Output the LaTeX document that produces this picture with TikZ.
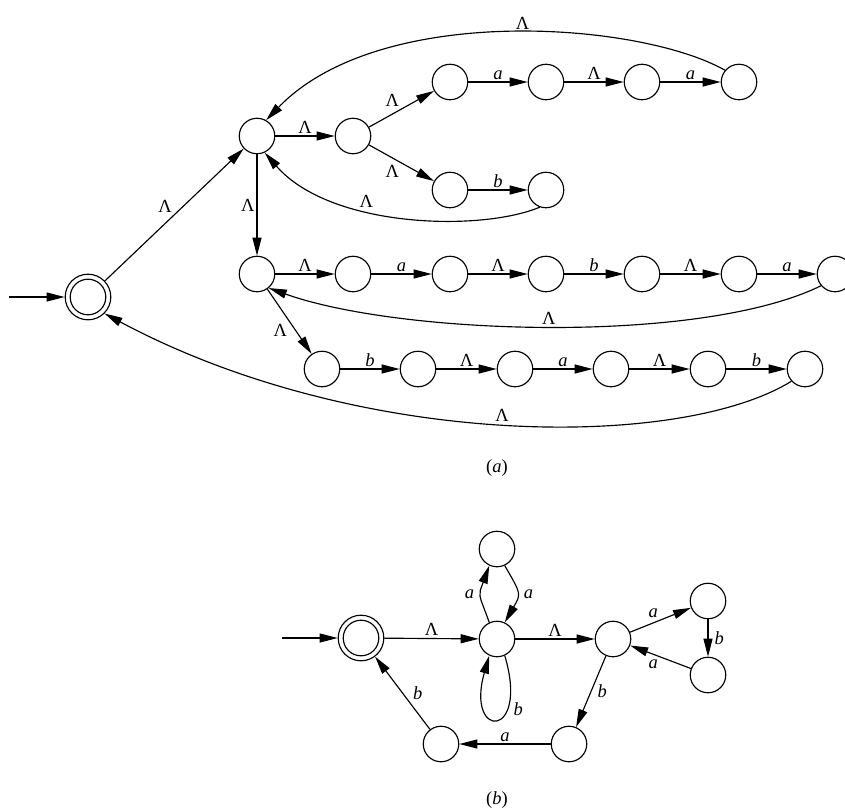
\documentclass[tikz,border=0pt]{standalone}
\usepackage{fontspec}
\setmainfont{Liberation Serif}
\usetikzlibrary{arrows.meta}
\begin{document}
\begin{tikzpicture}[x=1pt,y=-1pt,
  every node/.style={font=\fontsize{18.5}{21}\selectfont},
  st/.style={circle,draw,line width=1.15pt,minimum size=35.5pt,inner sep=0pt},
  acc/.style={circle,draw,line width=1.15pt,minimum size=45.6pt,inner sep=0pt},
  tr/.style={-{Triangle[length=18pt,width=9pt]},line width=1.15pt},
  lb/.style={inner sep=2pt}]
\useasboundingbox (0,0) rectangle (845,809);
% ---------- part (a) ----------
\node[acc] (S0) at (88,297) {};
\draw[line width=1.15pt] (S0.center) circle[radius=17.8pt];
\coordinate (S0in) at (9,297);
\node[st] (A) at (257,136) {};
\node[st] (B) at (353,136) {};
\node[st] (C1) at (450,82) {};
\node[st] (C2) at (546,82) {};
\node[st] (C3) at (642,82) {};
\node[st] (C4) at (739,82) {};
\node[st] (D1) at (450,190) {};
\node[st] (D2) at (546,190) {};
\node[st] (A2) at (257,274) {};
\node[st] (E1) at (353,274) {};
\node[st] (E2) at (450,274) {};
\node[st] (E3) at (546,274) {};
\node[st] (E4) at (642,274) {};
\node[st] (E5) at (739,274) {};
\node[st] (E6) at (835,274) {};
\node[st] (F1) at (322,369) {};
\node[st] (F2) at (418,369) {};
\node[st] (F3) at (515,369) {};
\node[st] (F4) at (611,369) {};
\node[st] (F5) at (708,369) {};
\node[st] (F6) at (805,369) {};

\draw[tr] (S0in) -- (S0);
\draw[tr] (S0) -- node[lb,above left] {Λ} (A);
\draw[tr] (A) -- node[lb,above] {Λ} (B);
\draw[tr] (B) -- node[lb,above left] {Λ} (C1);
\draw[tr] (B) -- node[lb,below left] {Λ} (D1);
\draw[tr] (C1) -- node[lb,above] {\textit{a}} (C2);
\draw[tr] (C2) -- node[lb,above] {Λ} (C3);
\draw[tr] (C3) -- node[lb,above] {\textit{a}} (C4);
\draw[tr] (D1) -- node[lb,above] {\textit{b}} (D2);
\draw[tr] (C4.140) .. controls (640,22) and (380,2) .. node[pos=0.47,lb,above] {Λ} (A.60);
\draw[tr] (D2.250) .. controls (480,232) and (330,228) .. node[pos=0.62,lb,above] {Λ} (A.295);
\draw[tr] (A) -- node[lb,left] {Λ} (A2);
\draw[tr] (A2) -- node[lb,above] {Λ} (E1);
\draw[tr] (E1) -- node[lb,above] {\textit{a}} (E2);
\draw[tr] (E2) -- node[lb,above] {Λ} (E3);
\draw[tr] (E3) -- node[lb,above] {\textit{b}} (E4);
\draw[tr] (E4) -- node[lb,above] {Λ} (E5);
\draw[tr] (E5) -- node[lb,above] {\textit{a}} (E6);
\draw[tr] (E6.220) .. controls (700,345) and (400,335) .. node[pos=0.5,lb,above] {Λ} (A2.310);
\draw[tr] (A2) -- node[lb,below left] {Λ} (F1);
\draw[tr] (F1) -- node[lb,above] {\textit{b}} (F2);
\draw[tr] (F2) -- node[lb,above] {Λ} (F3);
\draw[tr] (F3) -- node[lb,above] {\textit{a}} (F4);
\draw[tr] (F4) -- node[lb,above] {Λ} (F5);
\draw[tr] (F5) -- node[lb,above] {\textit{b}} (F6);
\draw[tr] (F6.222) .. controls (680,450) and (360,450) .. node[pos=0.5,lb,above] {Λ} (S0.315);
\node (capa) at (497,468) {(\textit{a})};
% ---------- part (b) ----------
\node[acc] (S) at (361,638) {};
\draw[line width=1.15pt] (S.center) circle[radius=17.8pt];
\coordinate (Sin) at (282,638);
\node[st] (M) at (497,639) {};
\node[st] (T) at (497,549) {};
\node[st] (R) at (613,639) {};
\node[st] (RT) at (708,601) {};
\node[st] (RB) at (708,675) {};
\node[st] (BR) at (569,744) {};
\node[st] (BL) at (441,744) {};

\draw[tr] (Sin) -- (S);
\draw[tr] (S) -- node[lb,above] {Λ} (M);
\draw[tr] (M) -- node[lb,above] {Λ} (R);
\draw[tr] (R) -- node[lb,above left] {\textit{a}} (RT);
\draw[tr] (RT) -- node[lb,right=4pt] {\textit{b}} (RB);
\draw[tr] (RB) -- node[lb,below left] {\textit{a}} (R);
\draw[tr] (R) -- node[lb,right=4pt] {\textit{b}} (BR);
\draw[tr] (BR) -- node[lb,above] {\textit{a}} (BL);
\draw[tr] (BL) -- node[lb,right=8pt] {\textit{b}} (S);
\draw[tr] (M.115) to[out=110,in=-110,looseness=1.5] node[lb,left=4pt] {\textit{a}} (T.245);
\draw[tr] (T.-65) to[out=-60,in=60,looseness=1.5] node[lb,right=4pt] {\textit{a}} (M.65);
\draw[tr] (M.-65) .. controls (530,740) and (465,740) .. node[pos=0.3,lb,right=3pt] {\textit{b}} (M.-115);
\node (capb) at (497,800) {(\textit{b})};
\end{tikzpicture}
\end{document}
